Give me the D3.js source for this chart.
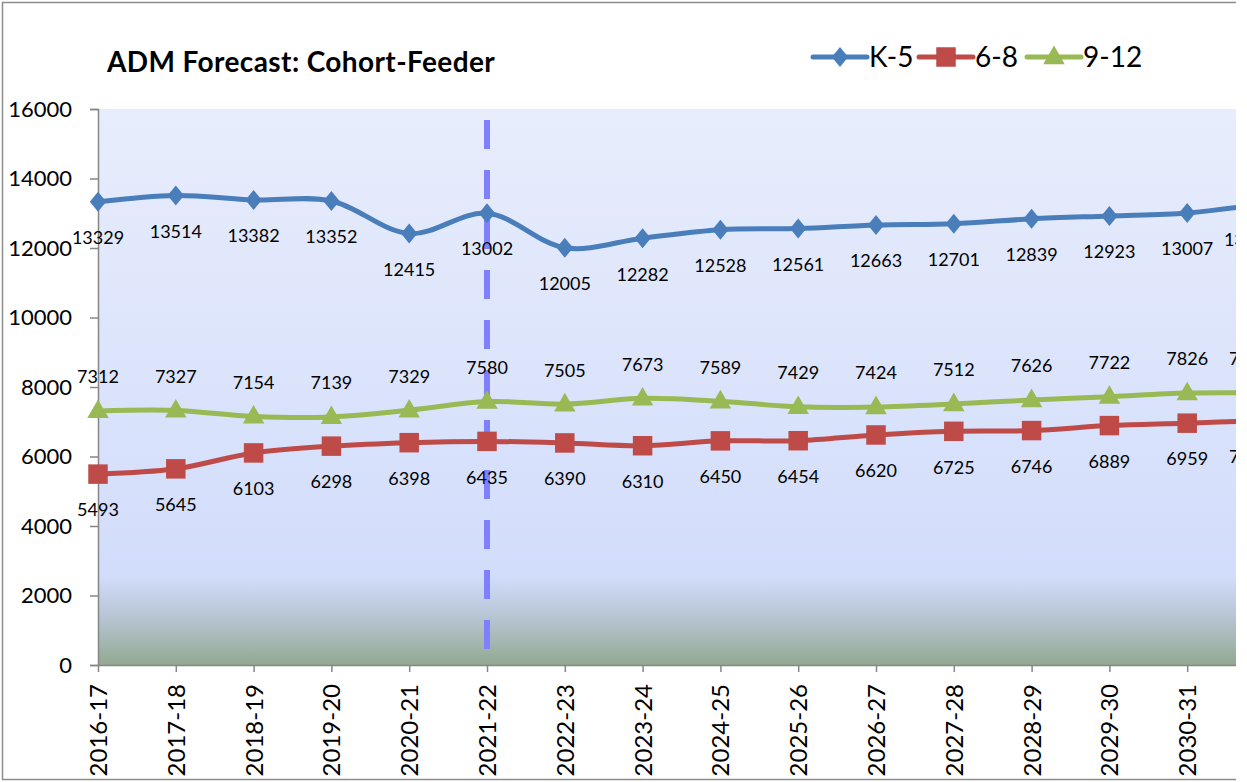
<!DOCTYPE html>
<html>
<head>
<meta charset="utf-8">
<script src="https://cdn.jsdelivr.net/npm/d3@7"></script>
<style>
  body { margin: 0; background: #fff; }
  text { font-family: Lato, "Open Sans", sans-serif; fill: #000; }
</style>
</head>
<body>
<div id="chart"></div>
<script>
const years = ['2016-17', '2017-18', '2018-19', '2019-20', '2020-21', '2021-22', '2022-23', '2023-24',
  '2024-25', '2025-26', '2026-27', '2027-28', '2028-29', '2029-30', '2030-31', '2031-32'];
const k5 = [13329, 13514, 13382, 13352, 12415, 13002, 12005, 12282, 12528, 12561, 12663, 12701, 12839, 12923, 13007, 13280];
const g68 = [5493, 5645, 6103, 6298, 6398, 6435, 6390, 6310, 6450, 6454, 6620, 6725, 6746, 6889, 6959, 7040];
const g912 = [7312, 7327, 7154, 7139, 7329, 7580, 7505, 7673, 7589, 7429, 7424, 7512, 7626, 7722, 7826, 7830];
const yTicks = [0, 2000, 4000, 6000, 8000, 10000, 12000, 14000, 16000];
const splitYear = '2021-22';

const width = 1247, height = 782;
const plot = { left: 98, top: 109, bottom: 665, right: 1236 };

const svg = d3.select('#chart').append('svg')
  .attr('width', width).attr('height', height);

const x = d3.scalePoint().domain(years).range([plot.left, plot.left + 15 * 77.8]);
const y = d3.scaleLinear().domain([0, 16000]).range([plot.bottom, plot.top]);

// the picture is cut at the right edge
svg.append('clipPath').attr('id', 'cut')
  .append('rect').attr('x', 0).attr('y', 0).attr('width', plot.right).attr('height', height);

const root = svg.append('g').attr('clip-path', 'url(#cut)');

// outer chart border
root.append('rect').attr('x', 2.5).attr('y', 2.5).attr('width', plot.right + 20).attr('height', 777)
  .attr('fill', '#fff').attr('stroke', '#8c8c8c').attr('stroke-width', 1.5);

// plot background gradient
const grad = svg.append('defs').append('linearGradient').attr('id', 'bg')
  .attr('x1', 0).attr('y1', 0).attr('x2', 0).attr('y2', 1);
grad.append('stop').attr('offset', '0%').attr('stop-color', '#e8edfc');
grad.append('stop').attr('offset', '84%').attr('stop-color', '#d2ddfb');
grad.append('stop').attr('offset', '91%').attr('stop-color', '#b9c6d6');
grad.append('stop').attr('offset', '100%').attr('stop-color', '#93a991');

root.append('rect').attr('x', plot.left).attr('y', plot.top)
  .attr('width', plot.right - plot.left).attr('height', plot.bottom - plot.top)
  .attr('fill', 'url(#bg)');

// axes
const yAxis = root.append('g').attr('transform', `translate(${plot.left},0)`)
  .call(d3.axisLeft(y).tickValues(yTicks).tickSize(8).tickPadding(18).tickFormat(d3.format('d')));
yAxis.select('.domain').attr('stroke', '#868686').attr('stroke-width', 1.5);
yAxis.selectAll('line').attr('stroke', '#868686').attr('stroke-width', 1.5);
yAxis.selectAll('text').attr('font-size', 22).attr('font-family', 'Lato, sans-serif');

const xAxis = root.append('g').attr('transform', `translate(0,${plot.bottom})`)
  .call(d3.axisBottom(x).tickSize(7).tickSizeOuter(0));
xAxis.select('.domain').attr('stroke', '#868686').attr('stroke-width', 1.5);
xAxis.selectAll('line').attr('stroke', '#868686').attr('stroke-width', 1.5);
xAxis.selectAll('text')
  .attr('font-size', 24).attr('font-family', 'Lato, sans-serif')
  .attr('transform', 'rotate(-90)')
  .attr('text-anchor', 'end')
  .attr('x', -19).attr('y', 0).attr('dy', '0.35em');

// dashed divider at current year
root.append('line')
  .attr('x1', x(splitYear)).attr('x2', x(splitYear))
  .attr('y1', y(15680)).attr('y2', y(0))
  .attr('stroke', '#8080ff').attr('stroke-width', 6)
  .attr('stroke-dasharray', '29 21');

const diamond = d3.symbol().type(d3.symbolSquare).size(200);
const series = [
  { name: 'K-5', values: k5, color: '#4a7ebb', shape: diamond, rot: 'scale(0.82,1) rotate(45)', labelDy: 36 },
  { name: '6-8', values: g68, color: '#be4b48', shape: d3.symbol().type(d3.symbolSquare).size(380), rot: '', labelDy: 36 },
  { name: '9-12', values: g912, color: '#98b954', shape: d3.symbol().type(d3.symbolTriangle).size(200), rot: 'translate(0,1)', labelDy: -34 }
];

const line = d3.line()
  .x((d, i) => x(years[i]))
  .y(d => y(d))
  .curve(d3.curveCatmullRom.alpha(0.5));

const marks = root.append('g');

series.forEach(s => {
  marks.append('path').datum(s.values)
    .attr('d', line)
    .attr('fill', 'none')
    .attr('stroke', s.color)
    .attr('stroke-width', 5)
    .attr('stroke-linejoin', 'round');
  marks.selectAll(null).data(s.values).join('path')
    .attr('transform', (d, i) => `translate(${x(years[i])},${y(d)}) ${s.rot}`)
    .attr('d', s.shape)
    .attr('fill', s.color);
});

// labels stay inside the chart area, like the spreadsheet does
series.forEach(s => {
  marks.selectAll(null).data(s.values).join('text')
    .attr('x', (d, i) => Math.min(x(years[i]), 1250))
    .attr('y', d => y(d) + s.labelDy)
    .attr('text-anchor', 'middle')
    .attr('dy', '0.35em')
    .attr('font-size', 18)
    .text(d => d);
});

// title
root.append('text').attr('x', 107).attr('y', 72)
  .attr('font-size', 28).attr('font-weight', 'bold').attr('letter-spacing', 0.4)
  .text('ADM Forecast: Cohort-Feeder');

// legend
const legendX = [813, 919, 1027];
const legend = root.append('g');
series.forEach((s, i) => {
  const g = legend.append('g').attr('transform', `translate(${legendX[i]},57)`);
  g.append('line').attr('x1', 0).attr('x2', 54).attr('y1', 0).attr('y2', 0)
    .attr('stroke', s.color).attr('stroke-width', 5).attr('stroke-linecap', 'round');
  g.append('path').attr('transform', `translate(27,0) ${s.rot}`)
    .attr('d', s.shape).attr('fill', s.color);
  g.append('text').attr('x', 56).attr('y', 0).attr('dy', '0.35em')
    .attr('font-size', 28).text(s.name);
});
</script>
</body>
</html>
